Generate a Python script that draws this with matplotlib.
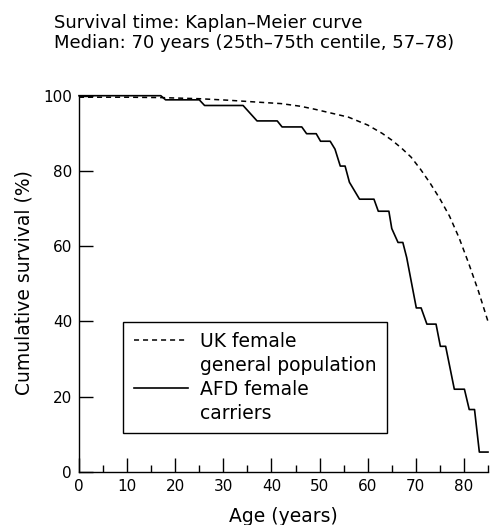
import matplotlib.pyplot as plt
from matplotlib.lines import Line2D

plt.rcParams['font.family'] = ['DejaVu Sans']

# UK female general population (dashed curve)
age_uk = [0, 10, 17, 25, 31, 37, 42, 46, 49, 53, 56, 60, 63, 65, 67,
          69, 71, 73, 75, 77, 79, 81, 83, 85]
surv_uk = [99.6, 99.6, 99.5, 99.2, 98.8, 98.3, 97.9, 97.2, 96.4, 95.2, 94.3,
           92.2, 90.0, 88.2, 86.1, 83.7, 80.4, 76.7, 72.6, 68.0, 62.2, 55.4,
           48.1, 40.0]

# AFD female carriers, Kaplan-Meier curve (vertices of the drawn line)
age_afd = [0, 17.0, 18.0, 25.0, 26.1, 34.1, 37.0, 41.2, 42.2, 46.3, 47.3,
           49.3, 50.2, 52.2, 53.2, 54.3, 55.3, 56.2, 58.3, 61.3, 62.2, 64.4,
           65.0, 66.3, 67.3, 68.1, 70.1, 71.1, 72.3, 74.2, 75.1, 76.2, 78.0,
           80.1, 81.1, 82.2, 83.2, 85.0]
surv_afd = [100, 100, 98.9, 98.9, 97.4, 97.4, 93.3, 93.3, 91.7, 91.7, 89.9,
            89.9, 87.9, 87.9, 85.8, 81.3, 81.3, 77.0, 72.5, 72.5, 69.3, 69.3,
            64.7, 61.0, 61.0, 57.0, 43.6, 43.6, 39.3, 39.3, 33.4, 33.4, 22.0,
            22.0, 16.6, 16.6, 5.3, 5.3]

x_ticks = [0, 10, 20, 30, 40, 50, 60, 70, 80]
x_minor = [5, 15, 25, 35, 45, 55, 65, 75, 85]
y_ticks = [0, 20, 40, 60, 80, 100]

title_lines = ['Survival time: Kaplan\u2013Meier curve',
               'Median: 70 years (25th\u201375th centile, 57\u201378)']
legend_labels = ['UK female', 'general population', 'AFD female', 'carriers']

W, H = 492, 525
fig = plt.figure(figsize=(W / 100, H / 100), dpi=100)
ax = fig.add_axes([79 / W, 1 - 472 / H, 409 / W, (472 - 95.7) / H])

dash = (3.3, 2.6)
ax.plot(age_uk, surv_uk, color='black', lw=1.1, dashes=dash, clip_on=False)
ax.plot(age_afd, surv_afd, color='black', lw=1.2, clip_on=False)

ax.set_xlim(0, 85)
ax.set_ylim(0, 100)
for s in ['top', 'right']:
    ax.spines[s].set_visible(False)
for s in ['left', 'bottom']:
    ax.spines[s].set_linewidth(1.0)

ax.set_xticks(x_ticks)
ax.set_xticks(x_minor, minor=True)
ax.set_yticks(y_ticks)
ax.tick_params(which='major', direction='in', length=10, width=1.0,
               labelsize=11, pad=5)
ax.tick_params(axis='x', which='minor', direction='in', length=5, width=1.0)

ax.set_xlabel('Age (years)', fontsize=13.5, va='baseline')
ax.xaxis.set_label_coords(0.5, -(521.7 - 472) / 376.3)
ax.set_ylabel('Cumulative survival (%)', fontsize=13.5, va='center')
ax.yaxis.set_label_coords((24 - 79) / 409, (472 - 283) / 376.3)

fig.text(54 / W, 1 - 28 / H, title_lines[0], fontsize=13, va='baseline')
fig.text(54 / W, 1 - 48 / H, title_lines[1], fontsize=13, va='baseline')

# legend: second line of each label carries an empty handle
handles = [Line2D([], [], color='black', lw=1.1, dashes=dash),
           Line2D([], [], linestyle='none'),
           Line2D([], [], color='black', lw=1.2),
           Line2D([], [], linestyle='none')]
leg = ax.legend(handles, legend_labels, loc='upper left',
                bbox_to_anchor=(123.3 / W, 1 - 321.7 / H),
                bbox_transform=fig.transFigure, fontsize=13.5,
                fancybox=False, edgecolor='black', framealpha=1,
                borderaxespad=0, borderpad=0.55, labelspacing=0.26,
                handlelength=2.9, handletextpad=0.65)
leg.get_frame().set_linewidth(1.0)

fig.savefig('out.png', dpi=100)
